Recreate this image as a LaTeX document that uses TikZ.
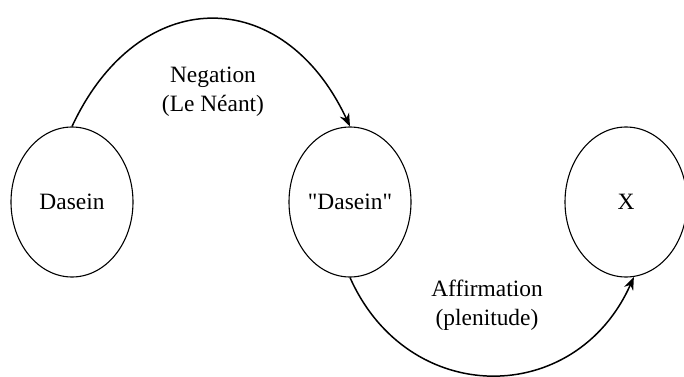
\documentclass[tikz,border=0pt]{standalone}
\usepackage{fontspec}
\setmainfont{Liberation Serif}[Ligatures=TeXOff]
\usetikzlibrary{arrows.meta,shapes.geometric}

\begin{document}
\begin{tikzpicture}[>={Stealth[length=13bp,width=10bp]},x=1bp,y=1bp,
 font=\fontsize{23.5}{29}\selectfont,
 state/.style={draw,ellipse,line width=1.1pt,inner sep=0pt,minimum width=122bp,minimum height=150bp},
 arc/.style={->,line width=1.5pt},
 lab/.style={align=center,inner sep=1pt}]
\useasboundingbox (0,0) rectangle (684,376);
\node[state] (dasein) at (72,174) {Dasein};
\node[state] (quoted) at (350,174) {"Dasein"};
\node[state] (x) at (626,174) {X};
\node[lab] (neg) at (213,284) {Negation\\(Le Néant)};
\node[lab] (aff) at (487,71) {Affirmation\\(plenitude)};
\draw[arc] (dasein.north) .. controls +(65:158) and +(115:158) .. (quoted.north);
\draw[arc] (quoted.south) .. controls +(294:143) and +(246:143) .. (x.-84);
\end{tikzpicture}
\end{document}
